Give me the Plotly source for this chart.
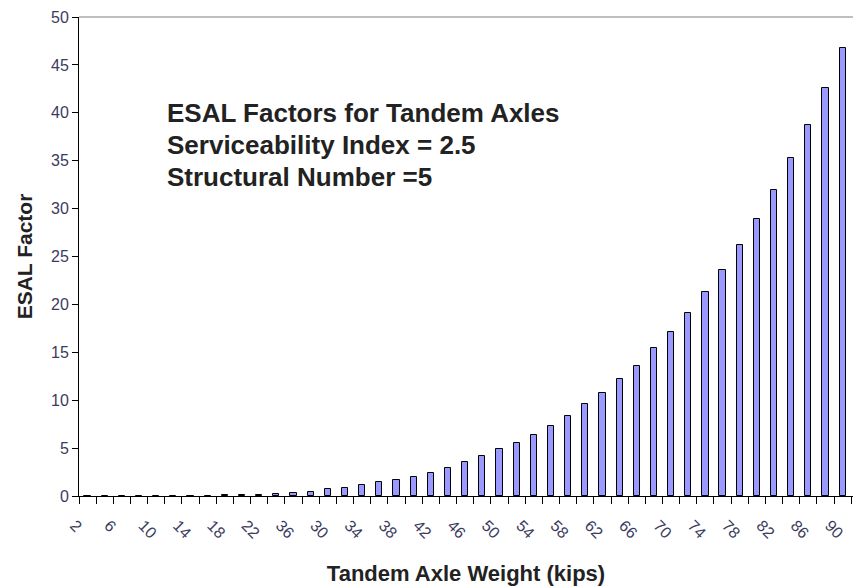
import plotly.graph_objects as go

# tandem axle weight (kips) and ESAL factor
weights = list(range(2, 92, 2))
esal = [0.0, 0.0, 0.0, 0.0, 0.0, 0.0, 0.0, 0.0, 0.08, 0.11,
        0.15, 0.22, 0.36, 0.40, 0.68, 0.82, 1.1, 1.43, 1.71, 1.98,
        2.4, 2.96, 3.55, 4.14, 4.87, 5.57, 6.4, 7.3, 8.33, 9.6,
        10.7, 12.2, 13.6, 15.4, 17.1, 19.1, 21.3, 23.6, 26.2, 28.9,
        31.9, 35.3, 38.7, 42.6, 46.8]

# labels on every other bar (the original shows "36" where 26 should be)
tick_vals = list(range(2, 92, 4))
tick_text = ['2', '6', '10', '14', '18', '22', '36', '30', '34', '38', '42', '46',
             '50', '54', '58', '62', '66', '70', '74', '78', '82', '86', '90']

note_lines = ['ESAL Factors for Tandem Axles',
              'Serviceability Index = 2.5',
              'Structural Number =5']

FONT = 'Liberation Sans, Arial, sans-serif'
TICK_COLOR = '#3b3b5e'

fig = go.Figure()
fig.add_trace(go.Bar(
    x=weights,
    y=esal,
    width=0.72,
    marker=dict(color='#9999ff', line=dict(color='black', width=1)),
))

fig.update_layout(
    width=854,
    height=586,
    margin=dict(l=79, r=1, t=17, b=90),
    paper_bgcolor='white',
    plot_bgcolor='white',
    showlegend=False,
    font=dict(family=FONT),
    bargap=0,
)

fig.update_xaxes(
    range=[1, 91.2],
    automargin=False,
    tickmode='array',
    tickvals=tick_vals,
    ticktext=tick_text,
    tickangle=45,
    ticks='',
    ticklabelshift=-13,
    ticklabelstandoff=13,
    tickfont=dict(size=16, color=TICK_COLOR),
    showline=True, linecolor='black', linewidth=1,
    showgrid=False, zeroline=False,
    minor=dict(tick0=1, dtick=2, ticks='outside', ticklen=7, tickcolor='black', showgrid=False),
    title=dict(text='<b>Tandem Axle Weight (kips)</b>', font=dict(size=22, color='#222'), standoff=24),
)

fig.update_yaxes(
    range=[0, 50],
    automargin=False,
    dtick=5,
    ticks='outside', ticklen=6, tickcolor='black',
    tickfont=dict(size=16, color=TICK_COLOR),
    showline=True, linecolor='black', linewidth=1,
    showgrid=False, zeroline=False,
    title=dict(text='<b>ESAL Factor</b>', font=dict(size=21, color='#222'), standoff=12),
)

# grey border along the top of the plot area
fig.add_shape(type='line', xref='paper', yref='paper', x0=0, x1=1, y0=1, y1=1,
              line=dict(color='#aaaaaa', width=1.5))

for i, line in enumerate(note_lines):
    fig.add_annotation(
        text=f'<b>{line}</b>',
        xref='paper', yref='paper',
        x=(165 - 79) / 774, y=(496 - 113 - 32 * i) / 479,
        xanchor='left', yanchor='middle',
        showarrow=False,
        font=dict(size=26, color='#222'),
    )

# page body has a default 8px margin, drop it so the figure fills the window
fig.write_html('out.html',
               config={'displayModeBar': False},
               post_script="document.body.style.margin='0';document.body.style.overflow='hidden';")
